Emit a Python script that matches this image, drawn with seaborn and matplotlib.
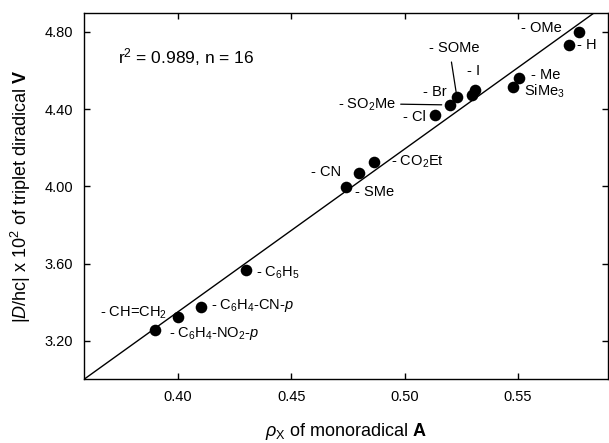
import matplotlib
matplotlib.use("Agg")
import matplotlib.pyplot as plt
import seaborn as sns
import pandas as pd

# ---- data ----
labels = ["- OMe", "- H", "- Me", "SiMe$_3$", "- I", "- Br2", "- SOMe", "- SO$_2$Me",
          "- Cl", "- CO$_2$Et", "- CN", "- SMe", "- C$_6$H$_5$", "- C$_6$H$_4$-CN-$p$",
          "- CH=CH$_2$", "- C$_6$H$_4$-NO$_2$-$p$"]
rho_x = [0.577, 0.5726, 0.5506, 0.5476, 0.531, 0.5295, 0.523, 0.520,
         0.5134, 0.4866, 0.4798, 0.4741, 0.430, 0.4101, 0.3999, 0.390]
d_hc = [4.80, 4.733, 4.560, 4.513, 4.500, 4.474, 4.465, 4.422,
        4.370, 4.128, 4.071, 3.998, 3.567, 3.377, 3.325, 3.256]
x_ticks = [0.40, 0.45, 0.50, 0.55]
x_ticklabels = ["0.40", "0.45", "0.50", "0.55"]
y_ticks = [3.20, 3.60, 4.00, 4.40, 4.80]
y_ticklabels = ["3.20", "3.60", "4.00", "4.40", "4.80"]
stats_text = "r$^2$ = 0.989, n = 16"

df = pd.DataFrame({"rho": rho_x, "D": d_hc, "label": labels})

sns.set_theme(style="ticks")
plt.rcParams["font.family"] = ["Liberation Sans", "DejaVu Sans"]
plt.rcParams["mathtext.fontset"] = "custom"
plt.rcParams["mathtext.rm"] = "Liberation Sans"
plt.rcParams["mathtext.it"] = "Liberation Sans:italic"
plt.rcParams["mathtext.bf"] = "Liberation Sans:bold"
plt.rcParams["text.color"] = "black"
plt.rcParams["axes.labelcolor"] = "black"
plt.rcParams["xtick.color"] = "black"
plt.rcParams["ytick.color"] = "black"

fig = plt.figure(figsize=(6.09, 4.43), dpi=100)
ax = fig.add_axes([84/609, 64/443, (608-84)/609, (379-13)/443])
ax.set_xlim(0.3585, 0.5897)
ax.set_ylim(3.003, 4.898)

sns.regplot(data=df, x="rho", y="D", ax=ax, ci=None, truncate=False, scatter=False,
            line_kws=dict(color="black", lw=1.0))
sns.scatterplot(data=df, x="rho", y="D", ax=ax, color="black", s=70,
                edgecolor="black", linewidth=0, zorder=3)

# label placement: (dx, dy) pixel offsets, ha
place = {
    "- OMe": (-17, 4, "right"),
    "- H": (8, 0, "left"),
    "- Me": (12, 3, "left"),
    "SiMe$_3$": (11, -4, "left"),
    "- I": (-8, 19, "left"),
    "- Br2": (-25, 3, "right"),
    "- C$_6$H$_5$": (10, -3, "left"),
    "- C$_6$H$_4$-CN-$p$": (10, 1, "left"),
    "- CH=CH$_2$": (-11, 4, "right"),
    "- C$_6$H$_4$-NO$_2$-$p$": (14, -3, "left"),
    "- Cl": (-9, -2, "right"),
    "- CO$_2$Et": (17, 0, "left"),
    "- CN": (-18, 1, "right"),
    "- SMe": (9, -5, "left"),
}
fs = 10.5
for lab, xv, yv in zip(labels, rho_x, d_hc):
    txt = "- Br" if lab == "- Br2" else lab
    if lab in place:
        dx, dy, ha = place[lab]
        ax.annotate(txt, (xv, yv), xytext=(dx, dy), textcoords="offset pixels",
                    ha=ha, va="center", fontsize=fs)
    elif lab == "- SOMe":
        ax.annotate(txt, (xv, yv), xytext=(-3, 49), textcoords="offset pixels",
                    ha="center", va="center", fontsize=fs,
                    arrowprops=dict(arrowstyle="-", color="black", lw=0.9,
                                    shrinkA=3, shrinkB=2, relpos=(0.43, 0)))
    elif lab == "- SO$_2$Me":
        ax.annotate(txt, (xv, yv), xytext=(-54, 0), textcoords="offset pixels",
                    ha="right", va="center", fontsize=fs,
                    arrowprops=dict(arrowstyle="-", color="black", lw=0.9,
                                    shrinkA=1, shrinkB=6, relpos=(1, 0.55)))

ax.text(118/609, 1 - 57/443, stats_text, transform=fig.transFigure,
        ha="left", va="center", fontsize=12.5)

ax.set_xticks(x_ticks)
ax.set_xticklabels(x_ticklabels)
ax.set_yticks(y_ticks)
ax.set_yticklabels(y_ticklabels)
ax.tick_params(direction="in", top=True, right=True, length=4, width=1,
               labelsize=10.5, colors="black", pad=8)
for sp in ax.spines.values():
    sp.set_visible(True)
    sp.set_linewidth(1.0)
    sp.set_color("black")

ax.set_xlabel(r"$\rho_{\mathrm{X}}$ of monoradical $\mathbf{A}$", fontsize=13, labelpad=12)
ax.set_ylabel(r"|$\mathit{D}$/hc| x 10$^2$ of triplet diradical $\mathbf{V}$", fontsize=13, labelpad=8)

fig.savefig("out.png", dpi=100)
